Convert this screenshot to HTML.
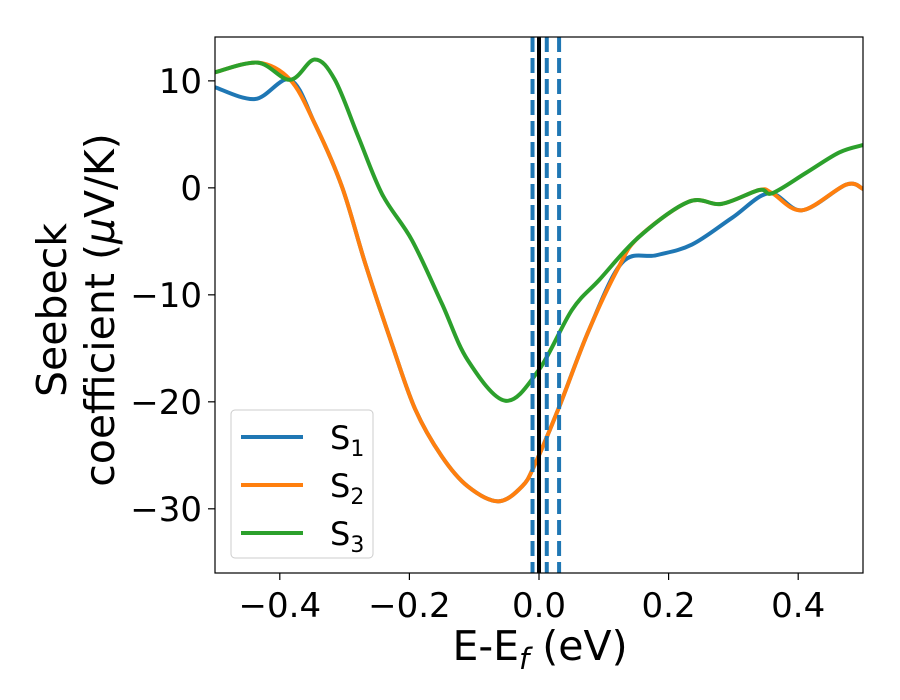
<!DOCTYPE html>
<html><head><meta charset="utf-8"><style>
body{margin:0;background:#fff}
svg{display:block;font-family:"DejaVu Sans","Liberation Sans",sans-serif}
</style></head><body>
<svg id="c" width="900" height="700"></svg>
<script>
const xTicks=[-0.4,-0.2,0.0,0.2,0.4];
const xTickLabels=["\u22120.4","\u22120.2","0.0","0.2","0.4"];
const yTicks=[10,0,-10,-20,-30];
const yTickLabels=["10","0","\u221210","\u221220","\u221230"];
const s1E=[-0.5,-0.438,-0.384,-0.346,-0.304,-0.268,-0.227,-0.191,-0.150,-0.110,-0.063,-0.026,-0.006,0.031,0.077,0.128,0.181,0.236,0.298,0.355,0.406,0.474,0.5];
const s1V=[9.4,8.3,10.1,6.0,0.1,-7.1,-14.6,-20.7,-25.1,-27.9,-29.3,-27.9,-25.8,-20.5,-13.3,-7.0,-6.3,-5.3,-2.8,-0.5,-2.1,0.3,-0.1];
const s2E=[-0.5,-0.434,-0.384,-0.346,-0.304,-0.268,-0.227,-0.191,-0.150,-0.110,-0.063,-0.026,-0.006,0.031,0.077,0.123,0.154,0.231,0.282,0.340,0.360,0.406,0.474,0.5];
const s2V=[10.8,11.7,10.1,6.0,0.1,-7.1,-14.6,-20.7,-25.1,-27.9,-29.3,-27.9,-25.8,-20.5,-13.3,-7.4,-4.6,-1.3,-1.5,-0.2,-0.5,-2.1,0.3,-0.1];
const s3E=[-0.5,-0.434,-0.384,-0.346,-0.315,-0.279,-0.242,-0.196,-0.150,-0.110,-0.052,0.0,0.051,0.093,0.154,0.231,0.282,0.340,0.360,0.412,0.463,0.5];
const s3V=[10.8,11.7,10.1,12.0,10.1,4.8,-0.6,-4.9,-10.8,-16.1,-19.9,-17.0,-11.4,-8.6,-4.6,-1.3,-1.5,-0.2,-0.5,1.4,3.3,4.0];
const dashedE=[-0.01,0.012,0.031];
const L=215,R=863,T=37,B=573;
const X=e=>L+(e+0.5)/1.0*(R-L);
const Y=v=>T+(14.1-v)/(14.1+36.0)*(B-T);
const NS="http://www.w3.org/2000/svg",svg=document.getElementById('c');
function mk(t,a,p){const el=document.createElementNS(NS,t);for(const k in a)el.setAttribute(k,a[k]);(p||svg).appendChild(el);return el;}
function smooth(xs,ys){const p=xs.map((x,i)=>[X(x),Y(ys[i])]);let d=`M${p[0][0]},${p[0][1]}`;
for(let i=0;i<p.length-1;i++){const p0=p[Math.max(0,i-1)],p1=p[i],p2=p[i+1],p3=p[Math.min(p.length-1,i+2)];
d+=` C${p1[0]+(p2[0]-p0[0])/6},${p1[1]+(p2[1]-p0[1])/6} ${p2[0]-(p3[0]-p1[0])/6},${p2[1]-(p3[1]-p1[1])/6} ${p2[0]},${p2[1]}`;}return d;}
const clip=mk('clipPath',{id:'cl'});mk('rect',{x:L,y:T,width:R-L,height:B-T},clip);
const g=mk('g',{'clip-path':'url(#cl)'});
const series=[[s1E,s1V,'#1f77b4','s1-line'],[s2E,s2V,'#ff7f0e','s2-line'],[s3E,s3V,'#2ca02c','s3-line']];
series.forEach(s=>{const p=mk('path',{d:smooth(s[0],s[1]),fill:'none',stroke:s[2],'stroke-width':4},g);

});
dashedE.forEach(e=>{const l=mk('line',{x1:X(e),x2:X(e),y1:T,y2:B,stroke:'#1f77b4','stroke-width':4,'stroke-dasharray':'15,6'},g);

});
const fl=mk('line',{x1:X(0),x2:X(0),y1:T,y2:B,stroke:'#000','stroke-width':4},g);


const fr=mk('rect',{x:L,y:T,width:R-L,height:B-T,fill:'none',stroke:'#000','stroke-width':1.2});


xTicks.forEach((t,i)=>{mk('line',{x1:X(t),x2:X(t),y1:B,y2:B+7,stroke:'#000','stroke-width':1.2});
const tx=mk('text',{x:X(t),y:B+44,'font-size':34,'text-anchor':'middle'});tx.textContent=xTickLabels[i];

});
yTicks.forEach((t,i)=>{mk('line',{x1:L-7,x2:L,y1:Y(t),y2:Y(t),stroke:'#000','stroke-width':1.2});
const tx=mk('text',{x:L-13,y:Y(t)+12,'font-size':34,'text-anchor':'end'});tx.textContent=yTickLabels[i];

});
</script>
<script>
(function(){const svg=document.getElementById('c');const NS="http://www.w3.org/2000/svg";
function mk(t,a){const el=document.createElementNS(NS,t);for(const k in a)el.setAttribute(k,a[k]);svg.appendChild(el);return el;}
const xl=mk('text',{x:540,y:660,'font-size':41,'text-anchor':'middle'});
xl.innerHTML='E-E<tspan font-style="italic" font-size="29" dy="9">f</tspan><tspan dy="-9"> (eV)</tspan>';


const yl=mk('text',{transform:'translate(66,310) rotate(-90)','font-size':41,'text-anchor':'middle'});
yl.innerHTML='<tspan x="0" dy="0">Seebeck</tspan><tspan x="0" dy="48">coefficient  (<tspan font-style="italic">μ</tspan>V/K)</tspan>';


const lg=mk('rect',{x:231,y:410,width:142,height:148,rx:4,fill:'#fff','fill-opacity':0.8,stroke:'#ccc','stroke-width':1});


const cols=['#1f77b4','#ff7f0e','#2ca02c'],ys=[437,485,533];
cols.forEach((c,i)=>{const l=mk('line',{x1:241,x2:303,y1:ys[i],y2:ys[i],stroke:c,'stroke-width':4});


const t=mk('text',{x:330,y:ys[i]+12,'font-size':32});
t.innerHTML='S<tspan font-size="22" dy="7">'+(i+1)+'</tspan>';

});
})();
</script>
</body></html>
